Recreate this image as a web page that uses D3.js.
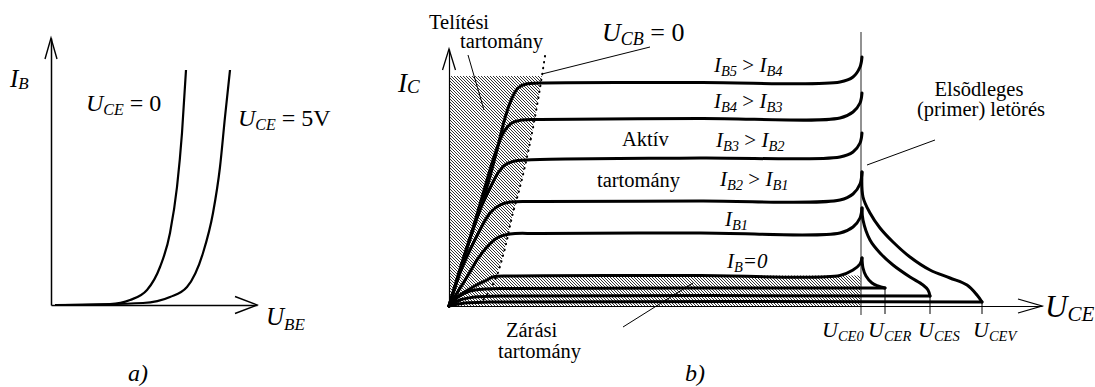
<!DOCTYPE html>
<html><head><meta charset="utf-8">
<script src="https://cdn.jsdelivr.net/npm/d3@7"></script>
<style>
html,body{margin:0;padding:0;background:#fff;}
svg{display:block;}
text{white-space:pre;font-family:'Liberation Serif','DejaVu Serif',serif;}
</style></head><body>
<svg id="chart" width="1095" height="387" font-family="Liberation Serif"></svg>
<script>
// ---- a) input characteristics: I_B as a function of U_BE ----
const inputCE0 = [[0.4,0],[5.9,0.1],[7.9,0.5],[9.6,1.5],[10.9,3.8],[11.9,7.2],[12.6,11.8],[13.1,17.2],[13.5,23.5]];
const inputCE5 = [[0.4,0],[9.2,0.2],[11.9,0.8],[13.6,1.8],[15.2,5.2],[16.2,9.2],[16.9,13.8],[17.4,18.8],[17.9,23.5]];

// ---- b) output characteristics: I_C as a function of U_CE ----
const curveIB5 = [[0,0],[1.9,6.1],[3.8,11.9],[4.8,15.6],[5.6,18.8],[6.3,20.8],[6.9,21.8],[7.7,22.2],[9.1,22.3],[25.1,22.35],[39.1,22.4],[40.4,22.9],[41.1,23.9],[41.3,24.9]];
const curveIB4 = [[0,0],[1.9,6.1],[3.6,11.9],[4.4,14.6],[5.1,16.6],[5.6,17.6],[6.3,18.3],[7.3,18.6],[9.1,18.65],[25.1,18.75],[39.1,18.8],[40.4,19.4],[41.1,20.3],[41.3,21.3]];
const curveIB3 = [[0,0],[1.7,5.6],[3.1,9.6],[4.1,11.8],[4.9,13.3],[5.6,14.1],[6.6,14.5],[9.1,14.65],[25.1,14.8],[39.1,14.9],[40.4,15.4],[41.1,16.3],[41.3,17.3]];
const curveIB2 = [[0,0],[1.1,3.3],[2.1,5.6],[3.1,7.6],[4.1,9.3],[5.1,10.1],[6.1,10.4],[9.1,10.45],[25.1,10.5],[39.1,10.6],[40.4,11.2],[41.1,12.2],[41.3,13.4]];
const curveIB1 = [[0,0],[0.8,1.3],[1.8,2.9],[2.8,4.6],[3.8,5.9],[4.8,6.8],[6.1,7.2],[9.1,7.25],[25.1,7.3],[39.1,7.3],[40.4,7.9],[41.1,8.8],[41.3,9.8]];
const curveIB0 = [[0,0],[0.4,0.6],[1.4,1.3],[2.4,1.9],[3.8,2.6],[4.4,2.9],[6.1,3.0],[25.1,3.05],[39.1,3.05],[40.4,3.6],[41.1,4.2],[41.3,4.8]];
// cut-off currents with base resistor, shorted base and reverse biased base
const cutoffR = [[0,0],[0.9,0.9],[2.1,1.5],[3.6,1.7],[6.1,1.75],[43.6,1.8]];
const cutoffS = [[0,0],[1.1,0.6],[2.6,0.9],[5.1,1.0],[48.1,1.0]];
const cutoffV = [[0,0],[1.6,0.3],[4.1,0.4],[53.3,0.4]];
// primary breakdown branches
const breakdownR = [[41.3,4.8],[41.4,3.8],[41.7,3.0],[42.3,2.3],[42.9,2.0],[43.6,1.8]];
const breakdownS = [[41.3,9.8],[41.4,8.6],[42.1,6.6],[43.1,5.3],[44.4,4.1],[46.1,2.9],[47.4,2.1],[47.9,1.6],[48.1,1.0]];
const breakdownV = [[41.3,13.4],[41.4,10.9],[42.1,9.3],[43.1,7.8],[44.4,6.4],[46.1,4.9],[48.1,3.6],[50.1,2.8],[51.8,2.1],[52.8,1.1],[53.3,0.4]];
// U_CB = 0 boundary between saturation and active region
const ucbZero = [[9.6,25.0],[8.9,20.6],[8.1,16.3],[7.2,12.3],[6.3,8.9],[5.5,5.4],[4.6,2.6],[4.1,1.6],[3.4,0.6]];
const saturationTop = 23.0;
const cutoffTop = 3.05;
// breakdown voltages on the U_CE axis
const breakdownNames = ["CE0","CER","CES","CEV"];
const breakdownVoltages = [41.2, 43.6, 48.1, 53.3];
const breakdownLevels = [null, 1.8, 1.0, 0.4];

const FONT = "'Liberation Serif','DejaVu Serif',serif";
const svg = d3.select("#chart");
const defs = svg.append("defs");
defs.append("pattern").attr("id","hatch").attr("patternUnits","userSpaceOnUse")
  .attr("width",3).attr("height",3)
  .append("path").attr("d","M-1,2 l2,2 M0,0 l3,3 M2,-1 l2,2")
  .attr("stroke","#333").attr("stroke-width",1.0);

function richText(g, x, y, parts, size, subSize, subShift, anchor) {
  const t = g.append("text").attr("x", x).attr("y", y).attr("font-size", size)
    .attr("font-family", FONT).attr("fill", "#000");
  if (anchor) t.attr("text-anchor", anchor);
  let shifted = false;
  parts.forEach(p => {
    const ts = t.append("tspan").text(p.t);
    if (p.i) ts.attr("font-style", "italic");
    if (p.s) { ts.attr("font-size", subSize); if (!shifted) { ts.attr("dy", subShift); shifted = true; } }
    else if (shifted) { ts.attr("dy", -subShift); shifted = false; }
  });
  return t;
}
function plainText(g, x, y, s, anchor) {
  return g.append("text").attr("x", x).attr("y", y).attr("font-size", 20.5)
    .attr("font-family", FONT).attr("text-anchor", anchor || "start").text(s);
}
function arrowUp(g, x, y, w, l, sw) {
  g.append("path").attr("d", `M${x-w},${y+l}L${x},${y}L${x+w},${y+l}`)
    .attr("fill","none").attr("stroke","#000").attr("stroke-width",sw);
}
function arrowRight(g, x, y, w, l, sw) {
  g.append("path").attr("d", `M${x-l},${y-w}L${x},${y}L${x-l},${y+w}`)
    .attr("fill","none").attr("stroke","#000").attr("stroke-width",sw);
}

// ================= panel a =================
const xA = d3.scaleLinear().domain([0, 20.6]).range([51, 257]);
const yA = d3.scaleLinear().domain([0, 26.7]).range([305, 38]);
const ga = svg.append("g");
const lineA = d3.line().x(d => xA(d[0])).y(d => yA(d[1])).curve(d3.curveMonotoneX);
[inputCE0, inputCE5].forEach(c => ga.append("path").attr("d", lineA(c))
  .attr("fill","none").attr("stroke","#000").attr("stroke-width",2.2));

const axA = ga.append("g").attr("transform", `translate(0,${yA(0)})`)
  .call(d3.axisBottom(xA).ticks(0).tickSizeOuter(0));
axA.select(".domain").attr("stroke-width",1.5);
const ayA = ga.append("g").attr("transform", `translate(${xA(0)},0)`)
  .call(d3.axisLeft(yA).ticks(0).tickSizeOuter(0));
ayA.select(".domain").attr("stroke-width",1.5);
arrowUp(ga, xA(0), yA.range()[1], 6, 21, 1.4);
arrowRight(ga, xA.range()[1], yA(0), 8.5, 22, 1.4);

richText(ga, 10, 87, [{t:"I",i:1},{t:"B",i:1,s:1}], 25, 17, 2);
richText(ga, 86, 111, [{t:"U",i:1},{t:"CE",i:1,s:1},{t:" = 0"}], 24, 16, 4);
richText(ga, 238, 126, [{t:"U",i:1},{t:"CE",i:1,s:1},{t:" = 5V"}], 24, 16, 4);
richText(ga, 266, 325, [{t:"U",i:1},{t:"BE",i:1,s:1}], 25, 17, 5);
richText(ga, 128, 381, [{t:"a)",i:1}], 24, 16, 0);

// ================= panel b =================
const xB = d3.scaleLinear().domain([0, 59.3]).range([449, 1042]);
const yB = d3.scaleLinear().domain([0, 25.7]).range([306, 49]);
const gb = svg.append("g");
const lineB = d3.line().x(d => xB(d[0])).y(d => yB(d[1])).curve(d3.curveCatmullRom.alpha(0.5));

// hatched saturation and cut-off regions
const satTopX = ucbZero[0][0] + (ucbZero[1][0]-ucbZero[0][0]) * (saturationTop-ucbZero[0][1])/(ucbZero[1][1]-ucbZero[0][1]);
const satPoly = [[0, saturationTop],[satTopX, saturationTop]]
  .concat(ucbZero.filter(d => d[1] < saturationTop)).concat([[0,0]]);
gb.append("path").attr("d", d3.line().x(d => xB(d[0])).y(d => yB(d[1]))(satPoly) + "Z")
  .attr("fill","url(#hatch)").attr("stroke","none");
gb.append("rect").attr("x", xB(0)).attr("y", yB(cutoffTop))
  .attr("width", xB(breakdownVoltages[0]) - xB(0)).attr("height", yB(0) - yB(cutoffTop))
  .attr("fill","url(#hatch)");

// U_CB = 0 dotted boundary
gb.append("path").attr("d", d3.line().x(d => xB(d[0])).y(d => yB(d[1])).curve(d3.curveMonotoneY)(ucbZero))
  .attr("fill","none").attr("stroke","#000").attr("stroke-width",2).attr("stroke-linecap","round")
  .attr("stroke-dasharray","0.5,5.5");

// tick extensions for breakdown voltages
breakdownVoltages.forEach((v, i) => {
  if (i === 0) {
    gb.append("line").attr("x1", xB(v)).attr("x2", xB(v)).attr("y1", yB(27.4)).attr("y2", yB(0) + 9)
      .attr("stroke","#777").attr("stroke-width",1.6);
  } else {
    gb.append("line").attr("x1", xB(v)).attr("x2", xB(v)).attr("y1", yB(breakdownLevels[i])).attr("y2", yB(0) + 8)
      .attr("stroke","#000").attr("stroke-width",1);
  }
});

// characteristic curves
[curveIB5, curveIB4, curveIB3, curveIB2, curveIB1, curveIB0, cutoffR, cutoffS, cutoffV,
 breakdownR, breakdownS, breakdownV].forEach(c =>
  gb.append("path").attr("d", lineB(c)).attr("fill","none").attr("stroke","#000")
    .attr("stroke-width",3).attr("stroke-linejoin","round").attr("stroke-linecap","round"));

// axes
const axB = gb.append("g").attr("transform", `translate(0,${yB(0)})`)
  .call(d3.axisBottom(xB).ticks(0).tickSizeOuter(0));
axB.select(".domain").attr("stroke-width",1.2);
const ayB = gb.append("g").attr("transform", `translate(${xB(0)},0)`)
  .call(d3.axisLeft(yB).ticks(0).tickSizeOuter(0));
ayB.select(".domain").attr("stroke-width",1.2);
arrowUp(gb, xB(0), yB.range()[1], 6.5, 21, 1.3);
arrowRight(gb, xB.range()[1], yB(0), 7, 24, 1.3);

// leader lines
const leaders = [
  [[1.9,25.1],[3.5,19.6]],
  [[20.1,25.9],[9.3,23.2]],
  [[48.6,16.6],[41.8,14.1]],
  [[17.4,-2.1],[24.4,2.3]]
];
leaders.forEach(l => gb.append("line")
  .attr("x1", xB(l[0][0])).attr("y1", yB(l[0][1])).attr("x2", xB(l[1][0])).attr("y2", yB(l[1][1]))
  .attr("stroke","#000").attr("stroke-width",1));

// labels
richText(gb, 398, 92, [{t:"I",i:1},{t:"C",i:1,s:1}], 27, 19, 1);
richText(gb, 602, 41, [{t:"U",i:1},{t:"CB",i:1,s:1},{t:" = 0"}], 26, 18, 4);
richText(gb, 1045, 317, [{t:"U",i:1},{t:"CE",i:1,s:1}], 31, 21, 4);
richText(gb, 685, 381, [{t:"b)",i:1}], 24, 16, 0);

plainText(gb, 429, 29, "Telítési");
plainText(gb, 460, 48, "tartomány");
plainText(gb, 622, 146, "Aktív");
plainText(gb, 597, 187, "tartomány");
plainText(gb, 506, 337, "Zárási");
plainText(gb, 498, 358, "tartomány");
plainText(gb, 979, 96, "Elsõdleges", "middle");
plainText(gb, 981, 116, "(primer) letörés", "middle");

const curveLabels = [
  {x:714, y:72,  parts:[{t:"I",i:1},{t:"B5",i:1,s:1},{t:" > "},{t:"I",i:1},{t:"B4",i:1,s:1}]},
  {x:714, y:108, parts:[{t:"I",i:1},{t:"B4",i:1,s:1},{t:" > "},{t:"I",i:1},{t:"B3",i:1,s:1}]},
  {x:716, y:147, parts:[{t:"I",i:1},{t:"B3",i:1,s:1},{t:" > "},{t:"I",i:1},{t:"B2",i:1,s:1}]},
  {x:720, y:186, parts:[{t:"I",i:1},{t:"B2",i:1,s:1},{t:" > "},{t:"I",i:1},{t:"B1",i:1,s:1}]},
  {x:725, y:226, parts:[{t:"I",i:1},{t:"B1",i:1,s:1}]},
  {x:727, y:268, parts:[{t:"I",i:1},{t:"B",i:1,s:1},{t:"=0",i:1}]}
];
curveLabels.forEach(c => richText(gb, c.x, c.y, c.parts, 21, 14.5, 3.5));

const breakdownLabelX = [822, 868, 918, 973];
breakdownNames.forEach((n, i) =>
  richText(gb, breakdownLabelX[i], 337, [{t:"U",i:1},{t:n,i:1,s:1}], 22, 14.5, 3.5));
</script>
</body></html>
